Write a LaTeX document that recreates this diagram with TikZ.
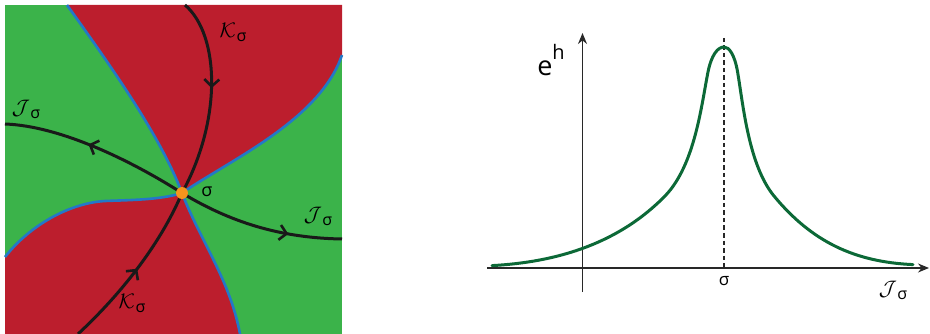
\RequirePackage{fix-cm}
\documentclass[tikz,border=0pt]{standalone}
\usepackage{fontspec}
\setmainfont{Open Sans}
\usetikzlibrary{arrows.meta,decorations.markings}
\definecolor{redreg}{RGB}{188,30,45}
\definecolor{greenreg}{RGB}{59,179,74}
\definecolor{bnd}{RGB}{35,120,200}
\definecolor{dotc}{RGB}{247,148,29}
\definecolor{curvec}{RGB}{12,105,55}
\definecolor{axisc}{RGB}{40,40,40}
\tikzset{
  flow/.style={line width=3pt, draw=black!90},
  bline/.style={line width=2.6pt, draw=bnd},
  midarrow/.style={postaction={decorate}, decoration={markings, mark=at position #1 with {\arrow{Straight Barb[length=7pt,width=15pt,line width=2.6pt]}}}},
  lab/.style={inner sep=0pt},
  axisline/.style={line width=1.5pt, draw=axisc, -{Stealth[length=11pt,width=9pt]}},
}
\newcommand\calsig[3]{{\fontsize{#1}{#1}\selectfont$\mathcal{#3}$\kern0.5pt\raisebox{-0.35ex}{\fontsize{#2}{#2}\selectfont σ}}}
\begin{document}
\begin{tikzpicture}[x=1pt,y=-1pt]
\useasboundingbox (0,0) rectangle (930,334);
% ---------- left panel ----------
\fill[greenreg] (5,5) rectangle (342,334);
\coordinate (S) at (182,193);
\coordinate (B1t) at (67,5);
\coordinate (B1b) at (240,334);
\coordinate (B2r) at (342,55);
\coordinate (B2m) at (105,201);
\coordinate (B2l) at (5,257);
\fill[redreg] (B1t) -- (342,5) -- (B2r) .. controls (320,120) and (230,160) .. (S)
  .. controls (160,135) and (110,65) .. (B1t) -- cycle;
\fill[redreg] (B2l) .. controls (30,225) and (70,203) .. (B2m) .. controls (130,200) and (160,200) .. (S)
  .. controls (200,240) and (230,280) .. (B1b) -- (5,334) -- cycle;
\draw[bline] (B1t) .. controls (110,65) and (160,135) .. (S) .. controls (200,240) and (230,280) .. (B1b);
\draw[bline] (B2r) .. controls (320,120) and (230,160) .. (S) .. controls (160,200) and (130,200) .. (B2m)
  .. controls (70,203) and (30,225) .. (B2l);
% flow lines
\coordinate (Jl) at (5,124);
\coordinate (Jr) at (342,239);
\coordinate (Kt) at (185,5);
\coordinate (Kb) at (78,334);
\draw[flow, midarrow=0.55] (S) .. controls (130,160) and (60,126) .. (Jl);
\draw[flow, midarrow=0.68] (S) .. controls (230,222) and (280,238) .. (Jr);
\draw[flow, midarrow=0.45] (Kt) .. controls (220,35) and (222,120) .. (S);
\draw[flow, midarrow=0.50] (Kb) .. controls (120,295) and (160,245) .. (S);
\fill[dotc] (S) circle (6pt);
\node[lab] (sigS) at (207,192) {\fontsize{18}{18}\selectfont σ};
\node[lab] (JL) at (26,109) {\calsig{21}{16}{J}};
\node[lab] (JR) at (318,216) {\calsig{21}{16}{J}};
\node[lab] (KT) at (233,32) {\calsig{21}{16}{K}};
\node[lab] (KB) at (132,303) {\calsig{21}{16}{K}};
% ---------- right panel ----------
\coordinate (xa) at (487,268);
\coordinate (xb) at (929,268);
\coordinate (ya) at (582.5,292);
\coordinate (yb) at (582.5,33);
\coordinate (pk) at (724,38);
\coordinate (pb) at (724,268);
\draw[axisline] (xa) -- (xb);
\draw[axisline] (ya) -- (yb);
\draw[line width=1.3pt, axisc, dash pattern=on 4.5pt off 3pt] (pk) -- (pb);
\coordinate (cA) at (492,265.6);
\coordinate (cB) at (665,196);
\coordinate (cC) at (708,72);
\coordinate (cP) at (724,47);
\coordinate (cC2) at (737.6,72);
\coordinate (cB2) at (774,196);
\coordinate (cA2) at (913,264.6);
\draw[curvec, line width=3pt, line cap=round]
 (cA) .. controls (560,262) and (620,242) .. (cB)
 .. controls (695,165) and (701.4,105) .. (cC)
 .. controls (711.5,54.5) and (718,47) .. (cP)
 .. controls (729.1,47) and (734.6,54.5) .. (cC2)
 .. controls (743.2,105) and (748.6,165) .. (cB2)
 .. controls (812,242) and (855,262) .. (cA2);
\node[lab] (eh) at (551,60) {\fontsize{27}{27}\selectfont e\raisebox{0.6em}{\fontsize{20}{20}\selectfont h}};
\node[lab] (sigx) at (724,281) {\fontsize{17}{17}\selectfont σ};
\node[lab] (JX) at (893,290) {\calsig{21}{16}{J}};
\end{tikzpicture}
\end{document}
